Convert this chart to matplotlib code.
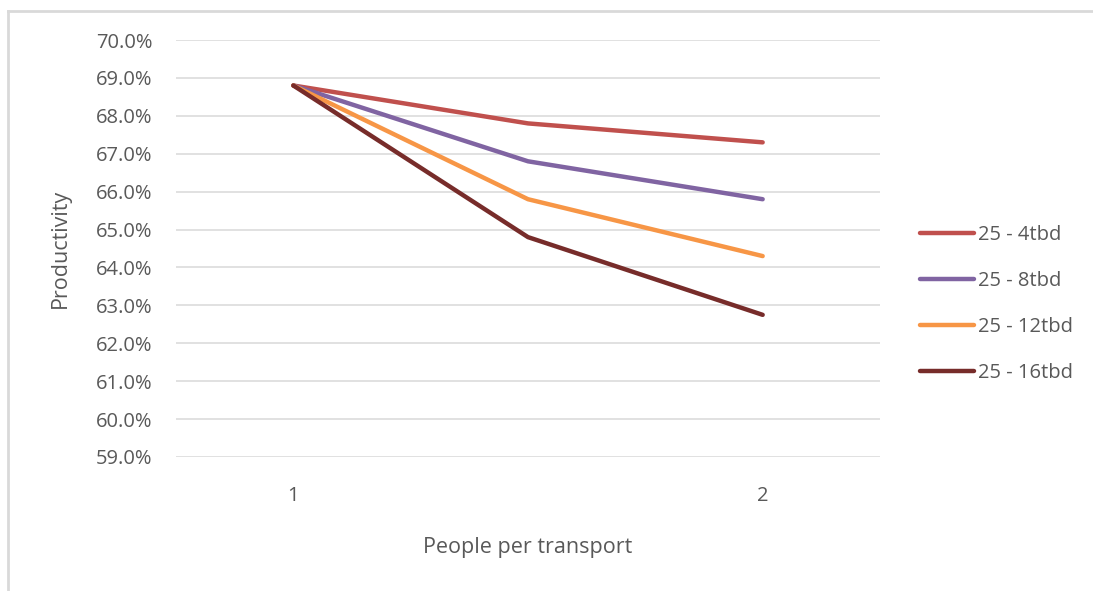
import matplotlib.pyplot as plt
from matplotlib.lines import Line2D
from matplotlib.ticker import FuncFormatter

# Productivity (%) by number of people per transport
categories = ["1", "", "2"]
series_names = ["25 - 4tbd", "25 - 8tbd", "25 - 12tbd", "25 - 16tbd"]
prod_4tbd = [68.8, 67.8, 67.3]
prod_8tbd = [68.8, 66.8, 65.8]
prod_12tbd = [68.8, 65.8, 64.3]
prod_16tbd = [68.8, 64.8, 62.75]
colors = ["#C0504D", "#8064A2", "#F79646", "#772C2A"]

plt.rcParams["font.family"] = ["Open Sans", "DejaVu Sans"]
text_color = "#595959"
fs = 14.5

fig = plt.figure(figsize=(10.93, 5.91), dpi=100)

# light chart-area frame (left and top edges visible)
fig.add_artist(Line2D([7.5 / 1093, 7.5 / 1093], [0, 1 - 11 / 591],
                      color="#D9D9D9", lw=2, transform=fig.transFigure))
fig.add_artist(Line2D([7.5 / 1093, 1], [1 - 11 / 591, 1 - 11 / 591],
                      color="#D9D9D9", lw=2, transform=fig.transFigure))

ax = fig.add_axes([176 / 1093, 1 - 457 / 591, 704 / 1093, 417 / 591])

x = list(range(len(categories)))
for name, vals, c in zip(series_names,
                         [prod_4tbd, prod_8tbd, prod_12tbd, prod_16tbd],
                         colors):
    ax.plot(x, vals, color=c, lw=3.2, label=name,
            solid_capstyle="round", solid_joinstyle="round", zorder=3)

ax.set_xlim(-0.5, len(categories) - 0.5)
ax.set_ylim(59, 70)
ax.set_yticks(range(59, 71))
ax.yaxis.set_major_formatter(FuncFormatter(lambda v, p: f"{v:.1f}%"))
ax.set_xticks(x)
ax.set_xticklabels(categories)

ax.grid(axis="y", color="#D9D9D9", lw=1.1, zorder=0)
for s in ax.spines.values():
    s.set_visible(False)
ax.tick_params(axis="both", length=0, colors=text_color, labelsize=fs)
ax.tick_params(axis="y", pad=17)
ax.tick_params(axis="x", pad=21)

ax.set_xlabel("People per transport", color=text_color, fontsize=15.5, va="center")
ax.xaxis.set_label_coords(0.5, (457 - 548) / 417)
ax.set_ylabel("Productivity", color=text_color, fontsize=15.5, va="center")
ax.yaxis.set_label_coords((60 - 176) / 704, 0.5)

leg = ax.legend(loc="center left", bbox_to_anchor=(1.031, (457 - 304) / 417),
                frameon=False, fontsize=fs, handlelength=2.7, handletextpad=0.2,
                labelspacing=1.3, labelcolor=text_color)

fig.savefig("out.png", dpi=100, facecolor="white")
